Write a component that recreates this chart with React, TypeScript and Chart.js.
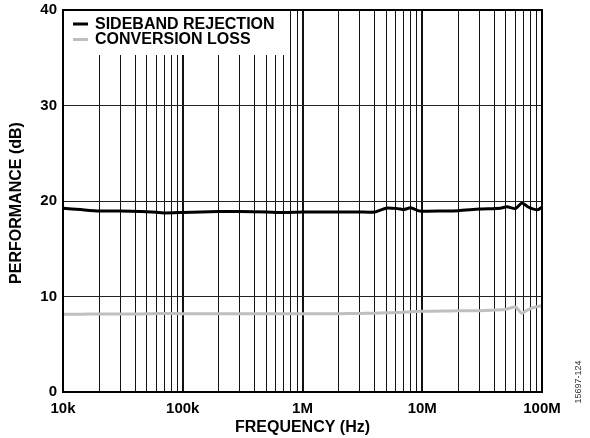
import React, { useEffect, useRef } from 'react';
import { Chart, registerables } from 'chart.js';

Chart.register(...registerables);

// ---- data ----
const freqHz = [
  1e4, 1.4e4, 2e4, 3e4, 4.5e4, 5.5e4, 7e4, 1e5, 2e5, 3e5, 5e5, 7e5,
  1e6, 2e6, 3e6, 4e6, 5e6, 6.3e6, 7e6, 8e6, 9.5e6, 1.5e7, 2e7, 3e7,
  4.5e7, 5.1e7, 6e7, 6.8e7, 7.6e7, 8.5e7, 9.3e7, 1e8,
];
const sidebandRejection = [
  19.25, 19.1, 18.95, 18.95, 18.9, 18.85, 18.75, 18.8, 18.9, 18.9, 18.85, 18.8,
  18.85, 18.85, 18.85, 18.85, 19.25, 19.2, 19.1, 19.3, 18.95, 18.95, 18.98, 19.15,
  19.25, 19.4, 19.2, 19.8, 19.4, 19.15, 19.1, 19.35,
];
const conversionLoss = [
  8.15, 8.15, 8.17, 8.17, 8.18, 8.2, 8.22, 8.2, 8.2, 8.2, 8.2, 8.2,
  8.2, 8.2, 8.22, 8.25, 8.3, 8.32, 8.35, 8.4, 8.45, 8.48, 8.5, 8.52,
  8.6, 8.7, 8.9, 8.25, 8.6, 8.85, 8.95, 9.05,
];
const seriesNames = ['SIDEBAND REJECTION', 'CONVERSION LOSS'];
const seriesColors = ['#000000', '#bfbfbf'];
const xTickValues = [1e4, 1e5, 1e6, 1e7, 1e8];
const xTickLabels = ['10k', '100k', '1M', '10M', '100M'];
const yTickValues = [0, 10, 20, 30, 40];
const yTickLabels = ['0', '10', '20', '30', '40'];
const xTitle = 'FREQUENCY (Hz)';
const yTitle = 'PERFORMANCE (dB)';
const figureId = '15697-124';

const FONT = '"Liberation Sans", Arial, sans-serif';

// log grid values: 1..9 x each decade
const gridValues: number[] = [];
for (let d = 0; d < xTickValues.length - 1; d++) {
  for (let m = 1; m <= 9; m++) gridValues.push(xTickValues[d] * m);
}
gridValues.push(xTickValues[xTickValues.length - 1]);

const overlayPlugin = {
  id: 'overlay',
  afterDraw(chart: any) {
    const { ctx, chartArea } = chart;
    const { left, top, right, bottom } = chartArea;
    ctx.save();
    // legend box (white, covers grid)
    ctx.fillStyle = '#ffffff';
    ctx.fillRect(left + 1, top + 1, 220, 44);
    const rows = [top + 14, top + 29.5];
    seriesNames.forEach((name, i) => {
      ctx.strokeStyle = seriesColors[i];
      ctx.lineWidth = 3;
      ctx.beginPath();
      ctx.moveTo(left + 10, rows[i]);
      ctx.lineTo(left + 25, rows[i]);
      ctx.stroke();
      ctx.fillStyle = '#000';
      ctx.font = `bold 16px ${FONT}`;
      ctx.textAlign = 'left';
      ctx.textBaseline = 'middle';
      ctx.fillText(name, left + 32, rows[i] + 0.5);
    });
    // frame
    ctx.strokeStyle = '#000';
    ctx.lineWidth = 2;
    ctx.strokeRect(left, top, right - left, bottom - top);
    // axis titles
    ctx.fillStyle = '#000';
    ctx.font = `bold 16px ${FONT}`;
    ctx.textAlign = 'center';
    ctx.textBaseline = 'middle';
    ctx.fillText(xTitle, (left + right) / 2, 428);
    ctx.save();
    ctx.translate(17, 203);
    ctx.rotate(-Math.PI / 2);
    ctx.fillText(yTitle, 0, 0);
    ctx.restore();
    // figure id
    ctx.save();
    ctx.font = `9px ${FONT}`;
    ctx.fillStyle = '#333';
    ctx.translate(579, 382);
    ctx.rotate(-Math.PI / 2);
    ctx.fillText(figureId, 0, 0);
    ctx.restore();
    ctx.restore();
  },
};

export default function App() {
  const ref = useRef<HTMLCanvasElement | null>(null);
  useEffect(() => {
    if (!ref.current) return;
    const chart = new Chart(ref.current, {
      type: 'line',
      data: {
        datasets: [
          {
            label: seriesNames[0],
            data: freqHz.map((f, i) => ({ x: f, y: sidebandRejection[i] })),
            borderColor: seriesColors[0],
            borderWidth: 3,
            pointRadius: 0,
            tension: 0.2,
          },
          {
            label: seriesNames[1],
            data: freqHz.map((f, i) => ({ x: f, y: conversionLoss[i] })),
            borderColor: seriesColors[1],
            borderWidth: 3,
            pointRadius: 0,
            tension: 0.2,
          },
        ],
      },
      options: {
        responsive: false,
        animation: false,
        devicePixelRatio: 1,
        layout: { padding: { left: 0, top: 10, right: 48, bottom: 0 } },
        plugins: { legend: { display: false }, tooltip: { enabled: false } },
        scales: {
          x: {
            type: 'logarithmic',
            min: xTickValues[0],
            max: xTickValues[xTickValues.length - 1],
            afterBuildTicks: (scale: any) => {
              scale.ticks = gridValues.map((v) => ({ value: v, major: xTickValues.includes(v) }));
            },
            afterFit: (scale: any) => {
              scale.height = 46;
              scale.paddingLeft = 0;
              scale.paddingRight = 0;
            },
            border: { display: false },
            grid: {
              drawTicks: false,
              color: '#111',
              lineWidth: (c: any) => (c.tick && xTickValues.includes(c.tick.value) ? 2 : 1),
            },
            ticks: {
              autoSkip: false,
              maxRotation: 0,
              padding: 8,
              color: '#000',
              font: { family: FONT, size: 15, weight: 'bold' },
              callback: (v: any) => {
                const i = xTickValues.indexOf(Number(v));
                return i >= 0 ? xTickLabels[i] : '';
              },
            },
          },
          y: {
            min: yTickValues[0],
            max: yTickValues[yTickValues.length - 1],
            afterBuildTicks: (scale: any) => {
              scale.ticks = yTickValues.map((v) => ({ value: v }));
            },
            afterFit: (scale: any) => {
              scale.width = 63;
              scale.paddingTop = 0;
              scale.paddingBottom = 0;
            },
            border: { display: false },
            grid: {
              drawTicks: false,
              color: '#222',
              lineWidth: 1,
            },
            ticks: {
              padding: 6,
              color: '#000',
              font: { family: FONT, size: 15, weight: 'bold' },
              callback: (v: any) => {
                const i = yTickValues.indexOf(Number(v));
                return i >= 0 ? yTickLabels[i] : '';
              },
            },
          },
        },
      } as any,
      plugins: [overlayPlugin],
    });
    return () => chart.destroy();
  }, []);
  return (
    <div style={{ position: 'absolute', left: 0, top: 0, width: 590, height: 438, background: '#fff' }}>
      <canvas ref={ref} width={590} height={438} />
    </div>
  );
}
